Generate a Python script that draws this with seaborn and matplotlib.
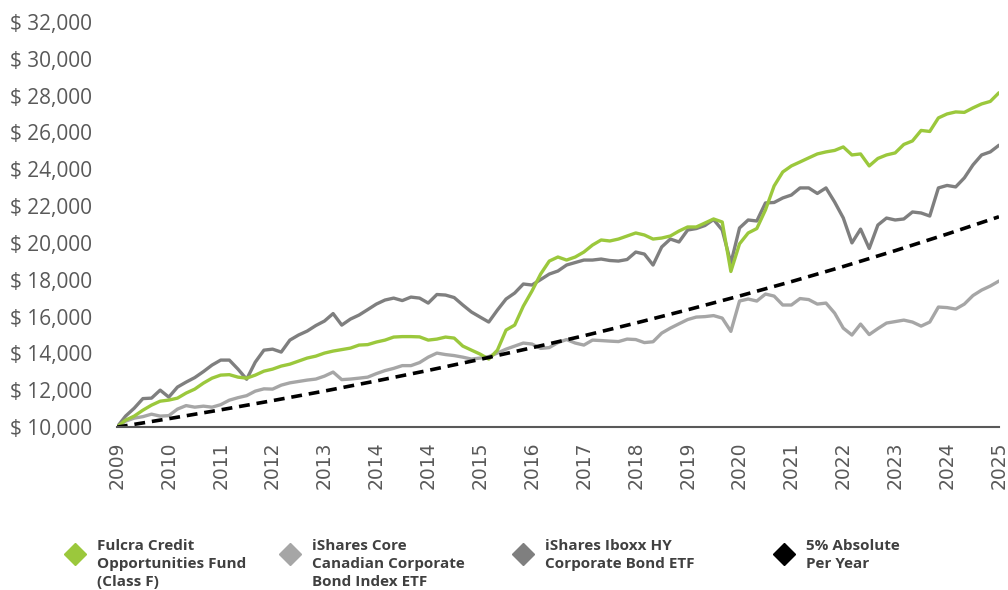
import numpy as np
import pandas as pd
import seaborn as sns
import matplotlib
import matplotlib.pyplot as plt
from matplotlib.lines import Line2D
from matplotlib.ticker import FuncFormatter

# tick labels as printed on the chart (2014 appears twice)
year_labels = ["2009", "2010", "2011", "2012", "2013", "2014", "2014", "2015", "2016",
               "2017", "2018", "2019", "2020", "2021", "2022", "2023", "2024", "2025"]

# values, 6 samples per labelled interval
fulcra = [10000, 10380, 10600, 10920, 11195, 11410, 11470, 11575, 11850, 12065,
          12390, 12660, 12825, 12850, 12715, 12660, 12825, 13040, 13150, 13315,
          13420, 13585, 13750, 13855, 14020, 14130, 14210, 14290, 14455, 14480,
          14620, 14725, 14890, 14915, 14915, 14900, 14725, 14780, 14890, 14835,
          14400, 14180, 13965, 13695, 14180, 15270, 15540, 16570, 17390, 18310,
          19015, 19235, 19070, 19235, 19505, 19885, 20160, 20105, 20210, 20375,
          20540, 20430, 20210, 20265, 20375, 20645, 20865, 20865, 21080, 21300,
          21135, 18450, 19950, 20540, 20780, 21790, 23090, 23850, 24180, 24395,
          24615, 24830, 24940, 25020, 25210, 24775, 24830, 24180, 24585, 24775,
          24885, 25345, 25535, 26105, 26050, 26785, 27000, 27110, 27085, 27330,
          27545, 27680, 28150]

ishares_hy = [10000, 10600, 11030, 11550, 11575, 12010, 11630, 12175, 12445, 12690,
              13015, 13370, 13640, 13640, 13150, 12600, 13530, 14180, 14235, 14075,
              14725, 15000, 15215, 15515, 15760, 16165, 15540, 15865, 16085, 16380,
              16680, 16900, 17005, 16870, 17060, 17005, 16735, 17200, 17170, 17035,
              16630, 16250, 15975, 15705, 16355, 16955, 17280, 17770, 17715, 18010,
              18310, 18475, 18800, 18935, 19070, 19070, 19125, 19045, 19015, 19100,
              19505, 19395, 18800, 19780, 20210, 20050, 20700, 20780, 20945, 21270,
              20700, 18900, 20810, 21245, 21190, 22170, 22195, 22440, 22600, 22985,
              22985, 22685, 22985, 22220, 21355, 20000, 20750, 19700, 20970, 21350,
              21245, 21300, 21680, 21625, 21460, 22985, 23120, 23040, 23530, 24235,
              24775, 24940, 25300]

ishares_cad = [10000, 10325, 10490, 10570, 10705, 10600, 10625, 10980, 11170, 11085,
               11140, 11085, 11220, 11465, 11600, 11710, 11955, 12080, 12065, 12280,
               12405, 12480, 12555, 12610, 12770, 12990, 12580, 12610, 12660, 12715,
               12905, 13070, 13190, 13340, 13340, 13505, 13800, 14020, 13940, 13885,
               13800, 13695, 13750, 13830, 14020, 14235, 14400, 14565, 14510, 14275,
               14320, 14590, 14755, 14565, 14455, 14725, 14700, 14670, 14645, 14780,
               14755, 14590, 14635, 15105, 15375, 15610, 15840, 15975, 16000, 16055,
               15920, 15200, 16845, 16955, 16845, 17225, 17115, 16630, 16630, 16980,
               16925, 16680, 16735, 16190, 15375, 15000, 15595, 15025, 15350, 15650,
               15730, 15810, 15705, 15485, 15705, 16520, 16490, 16410, 16680, 17145,
               17440, 17660, 17930]

# 5% per year line, read at each tick
absolute_5 = [10000, 10460, 10940, 11440, 11960, 12510, 13080, 13680, 14310,
              14960, 15650, 16370, 17120, 17900, 18720, 19580, 20480, 21420]

series_names = ["Fulcra Credit\nOpportunities Fund\n(Class F)",
                "iShares Core\nCanadian Corporate\nBond Index ETF",
                "iShares Iboxx HY\nCorporate Bond ETF",
                "5% Absolute\nPer Year"]
series_colors = ["#9BC83C", "#A6A6A6", "#7F7F7F", "#000000"]

steps = 6
x_m = np.arange(len(fulcra)) / steps
df = pd.DataFrame({"x": x_m, "fulcra": fulcra, "cad": ishares_cad, "hy": ishares_hy})
df_abs = pd.DataFrame({"x": np.arange(len(absolute_5)), "v": absolute_5})

sns.set_style("white")
plt.rcParams['font.family'] = ['Open Sans', 'DejaVu Sans']

fig = plt.figure(figsize=(10.08, 5.9), dpi=100)
ax = fig.add_axes([0.116, 0.276, 0.875, 0.687])

sns.lineplot(data=df, x="x", y="cad", color=series_colors[1], lw=2.4, ax=ax)
sns.lineplot(data=df, x="x", y="hy", color=series_colors[2], lw=2.4, ax=ax)
sns.lineplot(data=df, x="x", y="fulcra", color=series_colors[0], lw=2.4, ax=ax)
sns.lineplot(data=df_abs, x="x", y="v", color="black", lw=2.6, ax=ax,
             linestyle=(0, (3.0, 1.9)))

ax.set_xlim(0, len(year_labels) - 1)
ax.set_ylim(10000, 32000)
ax.set_yticks(np.arange(10000, 32001, 2000))
ax.yaxis.set_major_formatter(FuncFormatter(lambda v, p: "$ {:,.0f}".format(v)))
ax.set_xticks(np.arange(len(year_labels)))
ax.set_xticklabels(year_labels, rotation=90, family="DejaVu Sans", fontsize=13.5)
ax.set_xlabel("")
ax.set_ylabel("")

for s in ["top", "right", "left"]:
    ax.spines[s].set_visible(False)
ax.spines["bottom"].set_color("#595959")
ax.spines["bottom"].set_linewidth(1.5)
ax.tick_params(axis="x", colors="#595959", length=6, width=1.5, pad=4, labelcolor="#595959")
ax.tick_params(axis="y", length=0, pad=18, labelsize=15, labelcolor="#595959")

# legend drawn by hand, one entry per column
leg_marker_x = [75, 290, 523, 784]
for i, px in enumerate(leg_marker_x):
    col = series_colors[i]
    fig.add_artist(Line2D([px / 1008], [1 - 554 / 590], marker="D", markersize=11,
                          color=col, linestyle="none", transform=fig.transFigure))
    fig.text((px + 22) / 1008, 1 - 539 / 590, series_names[i], ha="left", va="top",
             fontsize=11, fontweight="bold", color="#404040", linespacing=1.38)

fig.savefig("out.png", dpi=100)
